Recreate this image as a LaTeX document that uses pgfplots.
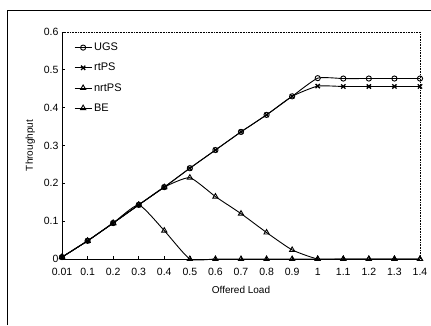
\documentclass[border=0pt]{standalone}
\usepackage{fontspec}
\setmainfont{Liberation Sans}
\usepackage{pgfplots}
\pgfplotsset{compat=1.18}
\begin{document}
\begin{tikzpicture}
\useasboundingbox (-62pt,-66pt) rectangle (369pt,259pt);
\draw[line width=0.9pt] (-55pt,-66pt) -- (-55pt,249pt) -- (369pt,249pt);
\begin{axis}[
  at={(0pt,0pt)}, anchor=south west,
  scale only axis, width=358pt, height=227pt,
  xmin=0, xmax=14, ymin=0, ymax=0.6,
  axis x line*=bottom, axis y line*=left,
  axis line style={line width=0.9pt, -},
  xtick={0,...,14},
  xticklabels={0.01,0.1,0.2,0.3,0.4,0.5,0.6,0.7,0.8,0.9,1,1.1,1.2,1.3,1.4},
  ytick={0,0.1,0.2,0.3,0.4,0.5,0.6},
  yticklabels={0,0.1,0.2,0.3,0.4,0.5,0.6},
  tick align=inside, major tick length=3pt,
  tick style={black, line width=0.7pt},
  /pgf/number format/assume math mode=true,
  tick label style={font=\fontsize{10.5}{12}\selectfont},
  xticklabel style={yshift=-6pt},
  xlabel={Offered Load}, ylabel={Throughput},
  label style={font=\fontsize{10}{12}\selectfont},
  xlabel style={yshift=-3pt},
  ylabel style={yshift=2pt},
  clip=false,
  legend style={draw=none, fill=none, at={(0.025,0.97)}, anchor=north west,
    font=\fontsize{11}{13}\selectfont, row sep=7pt},
  legend cell align=left,
  every axis plot/.append style={black, line width=0.9pt, smooth, tension=0.3},
]
\draw[densely dotted, line width=0.6pt] (rel axis cs:0,1) -- (rel axis cs:1,1) -- (rel axis cs:1,0);
\addplot[mark=o, mark size=2.6pt, mark options={solid, fill=white, line width=0.9pt}] coordinates {
(0,0.005)(1,0.048)(2,0.095)(3,0.143)(4,0.19)(5,0.24)(6,0.288)(7,0.336)(8,0.381)(9,0.43)(10,0.478)(11,0.477)(12,0.477)(13,0.477)(14,0.477)};
\addlegendentry{UGS}
\addplot[mark=x, mark size=3pt, mark options={solid, line width=1.3pt}] coordinates {
(0,0.005)(1,0.048)(2,0.095)(3,0.143)(4,0.19)(5,0.24)(6,0.288)(7,0.336)(8,0.381)(9,0.43)(10,0.457)(11,0.456)(12,0.456)(13,0.456)(14,0.456)};
\addlegendentry{rtPS}
\addplot[mark=triangle, mark size=3pt, mark options={solid, fill=white, line width=0.9pt}] coordinates {
(0,0.005)(1,0.048)(2,0.095)(3,0.143)(4,0.19)(5,0.215)(6,0.165)(7,0.12)(8,0.07)(9,0.024)(10,0.0)(11,0)(12,0)(13,0)(14,0)};
\addlegendentry{nrtPS}
\addplot[mark=triangle, mark size=3pt, mark options={solid, fill=white, line width=0.9pt}] coordinates {
(0,0.005)(1,0.048)(2,0.095)(3,0.143)(4,0.075)(5,0.0)(6,0)(7,0)(8,0)(9,0)(10,0)(11,0)(12,0)(13,0)(14,0)};
\addlegendentry{BE}
\end{axis}
\end{tikzpicture}
\end{document}
